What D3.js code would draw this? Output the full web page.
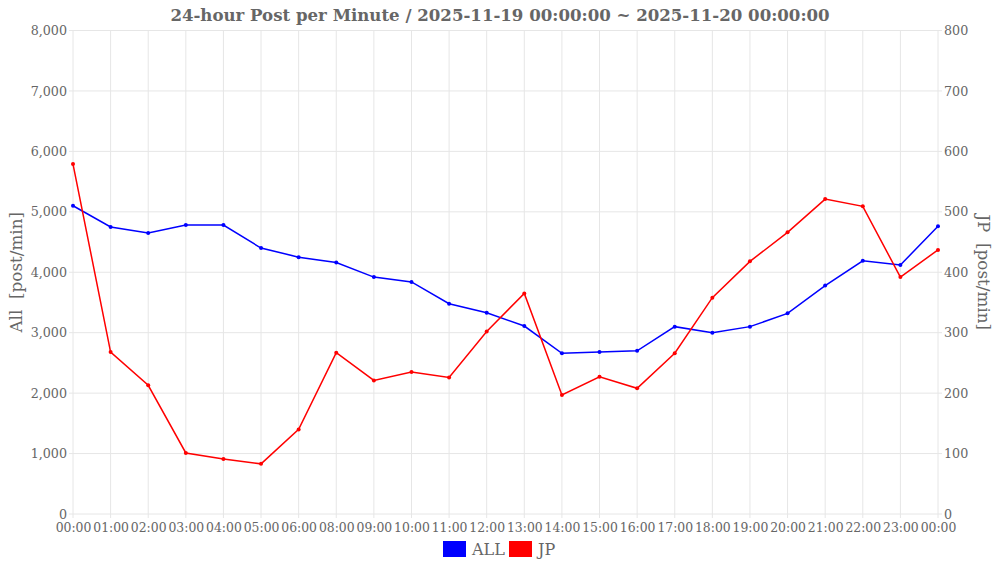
<!DOCTYPE html>
<html>
<head>
<meta charset="utf-8">
<script src="https://cdn.jsdelivr.net/npm/d3@7"></script>
<style>
  body { margin: 0; background: #fff; }
  svg { display: block; font-family: "DejaVu Serif", serif; }
</style>
</head>
<body>
<svg id="chart" width="1000" height="563"></svg>
<script>
// hour labels (07:00 is missing in the source data)
const hours = ['00:00','01:00','02:00','03:00','04:00','05:00','06:00','08:00','09:00','10:00','11:00','12:00',
               '13:00','14:00','15:00','16:00','17:00','18:00','19:00','20:00','21:00','22:00','23:00','00:00'];
const allValues = [5100,4750,4650,4780,4780,4400,4250,4160,3920,3840,3480,3330,
                   3110,2660,2680,2700,3100,3000,3100,3320,3780,4190,4120,4760];
const jpValues = [579,268,213,101,91,83,140,267,221,235,226,302,
                  365,197,227,208,266,358,418,466,521,509,392,437];
const leftTicks = [0,1000,2000,3000,4000,5000,6000,7000,8000];
const rightTicks = [0,100,200,300,400,500,600,700,800];

const svg = d3.select('#chart');
const margin = {left: 73, right: 62, top: 30.5, bottom: 49};
const width = 1000 - margin.left - margin.right;
const height = 563 - margin.top - margin.bottom;
const grey = '#666';
const gridColor = '#e6e6e6';

const x = d3.scaleLinear().domain([0, hours.length - 1]).range([0, width]);
const yLeft = d3.scaleLinear().domain([0, 8000]).range([height, 0]);
const yRight = d3.scaleLinear().domain([0, 800]).range([height, 0]);

const g = svg.append('g').attr('transform', `translate(${margin.left},${margin.top})`);

// grid
g.append('g')
    .selectAll('line')
    .data(leftTicks)
    .join('line')
    .attr('x1', -4).attr('x2', width + 4)
    .attr('y1', d => yLeft(d)).attr('y2', d => yLeft(d))
    .attr('stroke', gridColor);
g.append('g')
    .selectAll('line')
    .data(hours.map((h, i) => i))
    .join('line')
    .attr('x1', d => x(d)).attr('x2', d => x(d))
    .attr('y1', 0).attr('y2', height + 4)
    .attr('stroke', gridColor);

// axes
const styleAxis = (sel, size) => {
    sel.select('.domain').remove();
    sel.selectAll('.tick line').remove();
    sel.selectAll('.tick text').attr('fill', grey).style('font-size', size).style('font-family', '"DejaVu Serif", serif');
};

g.append('g')
    .call(d3.axisLeft(yLeft).tickValues(leftTicks).tickFormat(d3.format(',')).tickSize(0).tickPadding(6))
    .call(styleAxis, '12.7px');
g.append('g')
    .attr('transform', `translate(${width},0)`)
    .call(d3.axisRight(yRight).tickValues(rightTicks).tickSize(0).tickPadding(6))
    .call(styleAxis, '12.7px');
g.append('g')
    .attr('transform', `translate(0,${height})`)
    .call(d3.axisBottom(x).tickValues(hours.map((h, i) => i)).tickFormat(i => hours[i]).tickSize(0).tickPadding(9))
    .call(styleAxis, '12.4px');

// lines
const series = [
    {name: 'ALL', values: allValues, scale: yLeft, color: '#0000ff'},
    {name: 'JP', values: jpValues, scale: yRight, color: '#ff0000'}
];
series.forEach(s => {
    const line = d3.line().x((d, i) => x(i)).y(d => s.scale(d));
    g.append('path')
        .datum(s.values)
        .attr('d', line)
        .attr('fill', 'none')
        .attr('stroke', s.color)
        .attr('stroke-width', 1.5);
    g.append('g')
        .selectAll('circle')
        .data(s.values)
        .join('circle')
        .attr('cx', (d, i) => x(i))
        .attr('cy', d => s.scale(d))
        .attr('r', 2)
        .attr('fill', s.color);
});

// title
svg.append('text')
    .attr('x', 500).attr('y', 21)
    .attr('text-anchor', 'middle')
    .attr('fill', grey)
    .style('font-size', '16.6px')
    .style('font-weight', 'bold')
    .text('24-hour Post per Minute / 2025-11-19 00:00:00 ~ 2025-11-20 00:00:00');

// axis titles
svg.append('text')
    .attr('transform', `translate(22,${margin.top + height / 2}) rotate(-90)`)
    .attr('text-anchor', 'middle')
    .attr('fill', grey)
    .style('font-size', '16.8px')
    .style('white-space', 'pre')
    .text('All  [post/min]');
svg.append('text')
    .attr('transform', `translate(978,${margin.top + height / 2}) rotate(90)`)
    .attr('text-anchor', 'middle')
    .attr('fill', grey)
    .style('font-size', '16.8px')
    .style('white-space', 'pre')
    .text('JP  [post/min]');

// legend
const legend = svg.append('g');
const legendX = [443, 509];
series.forEach((s, i) => {
    legend.append('rect')
        .attr('x', legendX[i]).attr('y', 541)
        .attr('width', 23).attr('height', 16)
        .attr('fill', s.color);
    legend.append('text')
        .attr('x', legendX[i] + 29).attr('y', 555)
        .attr('fill', grey)
        .style('font-size', '16px')
        .text(s.name);
});
</script>
</body>
</html>
